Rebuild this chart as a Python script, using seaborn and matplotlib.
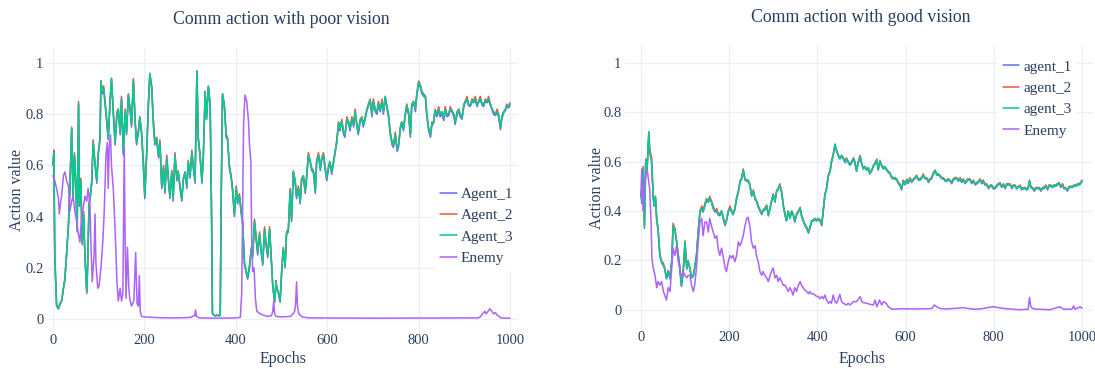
import pandas as pd
import matplotlib
matplotlib.use("Agg")
import matplotlib.pyplot as plt
import seaborn as sns

# ---------------- data ----------------
# left panel: "Comm action with poor vision"
left_epochs = [
    0, 2, 4, 8, 12, 15, 19, 23, 26, 30,
    34, 37, 41, 44, 47, 50, 53, 56, 58, 61,
    64, 67, 70, 74, 76, 79, 82, 85, 88, 92,
    96, 99, 103, 105, 108, 111, 114, 118, 121, 125,
    128, 132, 136, 140, 143, 147, 150, 154, 158, 161,
    165, 169, 172, 176, 180, 183, 187, 190, 194, 198,
    201, 205, 209, 212, 216, 220, 223, 227, 231, 234,
    238, 242, 245, 249, 253, 256, 260, 263, 267, 271,
    274, 278, 282, 285, 289, 293, 296, 300, 304, 307,
    311, 315, 318, 322, 326, 329, 333, 336, 340, 344,
    347, 349, 352, 356, 360, 364, 366, 368, 371, 375,
    379, 382, 386, 390, 393, 397, 401, 404, 408, 412,
    415, 419, 423, 426, 430, 434, 437, 441, 444, 448,
    452, 455, 459, 463, 466, 470, 474, 477, 481, 485,
    488, 490, 493, 497, 501, 504, 508, 511, 515, 519,
    522, 526, 530, 533, 537, 541, 544, 548, 552, 555,
    559, 563, 566, 570, 574, 577, 581, 585, 588, 592,
    595, 599, 603, 606, 610, 614, 617, 621, 625, 628,
    632, 636, 639, 643, 647, 650, 654, 658, 661, 665,
    668, 672, 676, 679, 683, 687, 690, 694, 698, 701,
    705, 709, 712, 716, 720, 723, 727, 730, 734, 738,
    742, 745, 749, 753, 756, 760, 763, 767, 771, 774,
    778, 782, 785, 789, 793, 796, 800, 804, 807, 811,
    815, 818, 822, 826, 829, 833, 836, 840, 844, 847,
    851, 855, 858, 862, 866, 869, 873, 877, 880, 884,
    888, 891, 895, 899, 902, 906, 909, 913, 917, 920,
    924, 928, 931, 935, 939, 942, 946, 950, 953, 957,
    961, 964, 968, 972, 975, 979, 982, 986, 990, 993,
    997, 1000,
]
left_agent_1 = [
    0.60, 0.65, 0.24, 0.05, 0.04, 0.055, 0.07, 0.12, 0.15, 0.25,
    0.37, 0.50, 0.745, 0.47, 0.64, 0.53, 0.34, 0.84, 0.44, 0.54,
    0.29, 0.41, 0.24, 0.10, 0.21, 0.44, 0.48, 0.53, 0.69, 0.60,
    0.53, 0.64, 0.70, 0.93, 0.88, 0.90, 0.84, 0.76, 0.70, 0.85,
    0.94, 0.80, 0.68, 0.80, 0.82, 0.72, 0.86, 0.64, 0.81, 0.72,
    0.875, 0.81, 0.75, 0.93, 0.76, 0.68, 0.73, 0.78, 0.72, 0.59,
    0.47, 0.64, 0.84, 0.955, 0.90, 0.75, 0.68, 0.70, 0.63, 0.69,
    0.51, 0.59, 0.49, 0.63, 0.53, 0.47, 0.575, 0.46, 0.64, 0.54,
    0.57, 0.51, 0.46, 0.54, 0.57, 0.51, 0.61, 0.55, 0.65, 0.59,
    0.53, 0.965, 0.70, 0.63, 0.53, 0.63, 0.885, 0.78, 0.905, 0.83,
    0.41, 0.02, 0.015, 0.012, 0.015, 0.012, 0.015, 0.45, 0.875, 0.83,
    0.71, 0.70, 0.59, 0.55, 0.50, 0.40, 0.51, 0.45, 0.48, 0.41,
    0.37, 0.21, 0.18, 0.155, 0.20, 0.27, 0.24, 0.38, 0.32, 0.25,
    0.33, 0.27, 0.21, 0.35, 0.29, 0.24, 0.35, 0.25, 0.125, 0.065,
    0.14, 0.115, 0.10, 0.065, 0.20, 0.27, 0.20, 0.33, 0.34, 0.50,
    0.38, 0.575, 0.53, 0.47, 0.51, 0.45, 0.54, 0.55, 0.49, 0.55,
    0.64, 0.61, 0.58, 0.57, 0.49, 0.615, 0.64, 0.58, 0.62, 0.64,
    0.59, 0.54, 0.59, 0.61, 0.565, 0.61, 0.645, 0.69, 0.765, 0.735,
    0.77, 0.72, 0.71, 0.78, 0.76, 0.735, 0.78, 0.75, 0.81, 0.75,
    0.72, 0.77, 0.78, 0.75, 0.78, 0.815, 0.83, 0.855, 0.79, 0.85,
    0.81, 0.80, 0.84, 0.81, 0.85, 0.80, 0.865, 0.83, 0.79, 0.72,
    0.68, 0.67, 0.72, 0.655, 0.67, 0.74, 0.765, 0.735, 0.795, 0.83,
    0.80, 0.71, 0.83, 0.845, 0.81, 0.87, 0.92, 0.905, 0.88, 0.87,
    0.865, 0.79, 0.735, 0.71, 0.755, 0.765, 0.81, 0.79, 0.815, 0.79,
    0.80, 0.775, 0.815, 0.79, 0.795, 0.815, 0.81, 0.79, 0.76, 0.795,
    0.815, 0.79, 0.78, 0.83, 0.845, 0.855, 0.835, 0.83, 0.85, 0.845,
    0.855, 0.83, 0.845, 0.855, 0.835, 0.83, 0.85, 0.845, 0.855, 0.835,
    0.815, 0.80, 0.795, 0.805, 0.79, 0.74, 0.78, 0.805, 0.815, 0.83,
    0.825, 0.835,
]
left_agent_2 = [
    0.60, 0.66, 0.25, 0.055, 0.04, 0.06, 0.07, 0.12, 0.16, 0.26,
    0.37, 0.51, 0.75, 0.48, 0.65, 0.54, 0.35, 0.85, 0.45, 0.55,
    0.30, 0.42, 0.25, 0.107, 0.22, 0.45, 0.49, 0.54, 0.70, 0.61,
    0.54, 0.65, 0.705, 0.93, 0.89, 0.91, 0.85, 0.77, 0.71, 0.85,
    0.94, 0.82, 0.69, 0.81, 0.82, 0.73, 0.87, 0.65, 0.82, 0.73,
    0.88, 0.82, 0.76, 0.94, 0.77, 0.69, 0.74, 0.79, 0.73, 0.61,
    0.48, 0.65, 0.85, 0.96, 0.91, 0.77, 0.69, 0.71, 0.64, 0.70,
    0.52, 0.60, 0.50, 0.64, 0.54, 0.48, 0.58, 0.47, 0.65, 0.55,
    0.58, 0.52, 0.47, 0.55, 0.575, 0.52, 0.62, 0.56, 0.66, 0.60,
    0.54, 0.97, 0.71, 0.64, 0.54, 0.64, 0.89, 0.79, 0.91, 0.84,
    0.41, 0.02, 0.015, 0.012, 0.015, 0.012, 0.015, 0.45, 0.88, 0.84,
    0.72, 0.71, 0.60, 0.56, 0.51, 0.41, 0.52, 0.46, 0.49, 0.42,
    0.38, 0.22, 0.185, 0.16, 0.21, 0.28, 0.25, 0.39, 0.33, 0.26,
    0.34, 0.275, 0.22, 0.36, 0.30, 0.25, 0.36, 0.26, 0.13, 0.07,
    0.15, 0.12, 0.107, 0.07, 0.21, 0.28, 0.21, 0.34, 0.35, 0.51,
    0.39, 0.58, 0.54, 0.48, 0.52, 0.46, 0.55, 0.56, 0.50, 0.56,
    0.65, 0.615, 0.59, 0.58, 0.50, 0.62, 0.65, 0.59, 0.63, 0.65,
    0.60, 0.55, 0.60, 0.615, 0.575, 0.62, 0.65, 0.70, 0.77, 0.745,
    0.78, 0.73, 0.72, 0.79, 0.77, 0.745, 0.79, 0.76, 0.82, 0.76,
    0.73, 0.78, 0.79, 0.76, 0.79, 0.82, 0.84, 0.86, 0.80, 0.86,
    0.82, 0.81, 0.85, 0.82, 0.86, 0.81, 0.87, 0.84, 0.80, 0.73,
    0.69, 0.68, 0.73, 0.665, 0.68, 0.75, 0.77, 0.75, 0.80, 0.84,
    0.81, 0.72, 0.84, 0.85, 0.82, 0.88, 0.93, 0.915, 0.89, 0.88,
    0.87, 0.80, 0.745, 0.72, 0.77, 0.77, 0.82, 0.80, 0.83, 0.80,
    0.81, 0.785, 0.83, 0.80, 0.80, 0.83, 0.815, 0.80, 0.77, 0.81,
    0.82, 0.80, 0.785, 0.84, 0.85, 0.87, 0.84, 0.835, 0.86, 0.85,
    0.87, 0.835, 0.85, 0.87, 0.84, 0.835, 0.86, 0.85, 0.87, 0.84,
    0.82, 0.81, 0.80, 0.82, 0.80, 0.75, 0.79, 0.81, 0.82, 0.84,
    0.83, 0.845,
]
left_agent_3 = [
    0.60, 0.65, 0.25, 0.055, 0.04, 0.06, 0.07, 0.12, 0.15, 0.26,
    0.37, 0.51, 0.745, 0.48, 0.64, 0.54, 0.35, 0.84, 0.45, 0.54,
    0.30, 0.41, 0.25, 0.107, 0.21, 0.45, 0.48, 0.54, 0.69, 0.61,
    0.54, 0.64, 0.705, 0.93, 0.89, 0.90, 0.85, 0.77, 0.705, 0.85,
    0.94, 0.81, 0.69, 0.80, 0.82, 0.73, 0.86, 0.65, 0.81, 0.73,
    0.875, 0.82, 0.76, 0.93, 0.77, 0.69, 0.73, 0.79, 0.73, 0.60,
    0.48, 0.64, 0.85, 0.96, 0.91, 0.76, 0.69, 0.705, 0.64, 0.69,
    0.52, 0.59, 0.50, 0.63, 0.54, 0.48, 0.575, 0.47, 0.64, 0.55,
    0.575, 0.52, 0.47, 0.54, 0.575, 0.52, 0.615, 0.56, 0.65, 0.60,
    0.54, 0.97, 0.705, 0.64, 0.54, 0.63, 0.89, 0.78, 0.91, 0.835,
    0.41, 0.02, 0.015, 0.012, 0.015, 0.012, 0.015, 0.45, 0.88, 0.835,
    0.72, 0.705, 0.60, 0.55, 0.51, 0.41, 0.51, 0.46, 0.48, 0.42,
    0.38, 0.22, 0.185, 0.16, 0.20, 0.275, 0.25, 0.38, 0.33, 0.26,
    0.33, 0.275, 0.22, 0.35, 0.30, 0.25, 0.35, 0.26, 0.13, 0.07,
    0.145, 0.12, 0.107, 0.07, 0.20, 0.275, 0.21, 0.33, 0.35, 0.50,
    0.39, 0.575, 0.54, 0.48, 0.51, 0.46, 0.54, 0.56, 0.50, 0.55,
    0.64, 0.615, 0.59, 0.575, 0.50, 0.615, 0.64, 0.59, 0.63, 0.64,
    0.60, 0.55, 0.59, 0.615, 0.575, 0.615, 0.65, 0.69, 0.77, 0.745,
    0.77, 0.73, 0.72, 0.78, 0.77, 0.745, 0.78, 0.76, 0.81, 0.76,
    0.73, 0.77, 0.79, 0.76, 0.78, 0.82, 0.835, 0.855, 0.80, 0.85,
    0.82, 0.81, 0.84, 0.82, 0.85, 0.81, 0.87, 0.835, 0.80, 0.73,
    0.69, 0.68, 0.72, 0.665, 0.68, 0.745, 0.77, 0.745, 0.80, 0.835,
    0.81, 0.72, 0.835, 0.85, 0.82, 0.875, 0.925, 0.91, 0.89, 0.875,
    0.87, 0.80, 0.745, 0.72, 0.76, 0.77, 0.815, 0.80, 0.82, 0.80,
    0.81, 0.785, 0.82, 0.80, 0.80, 0.82, 0.815, 0.80, 0.77, 0.80,
    0.82, 0.80, 0.785, 0.835, 0.85, 0.86, 0.84, 0.835, 0.855, 0.85,
    0.86, 0.835, 0.85, 0.86, 0.84, 0.835, 0.855, 0.85, 0.86, 0.84,
    0.82, 0.81, 0.80, 0.81, 0.80, 0.75, 0.785, 0.81, 0.82, 0.835,
    0.83, 0.84,
]
left_enemy_epochs = [
    0, 4, 8, 12, 14, 17, 19, 23, 26, 30,
    34, 37, 41, 44, 48, 52, 55, 59, 63, 66,
    70, 74, 77, 81, 83, 86, 90, 92, 94, 98,
    101, 105, 109, 112, 116, 119, 121, 123, 126, 128,
    132, 136, 138, 140, 143, 147, 150, 153, 156, 158,
    160, 163, 166, 168, 172, 177, 181, 184, 187, 189,
    191, 194, 200, 230, 260, 290, 300, 306, 310, 312,
    314, 320, 360, 400, 410, 413, 417, 420, 424, 428,
    430, 433, 435, 437, 440, 443, 446, 453, 468, 478,
    481, 483, 485, 488, 500, 520, 525, 529, 531, 533,
    535, 538, 545, 560, 700, 930, 935, 940, 945, 948,
    952, 956, 960, 964, 968, 972, 976, 980, 1000,
]
left_enemy = [
    0.56, 0.54, 0.51, 0.47, 0.41, 0.46, 0.48, 0.56, 0.575, 0.54,
    0.52, 0.42, 0.46, 0.48, 0.42, 0.38, 0.34, 0.30, 0.41, 0.43,
    0.48, 0.46, 0.51, 0.445, 0.30, 0.145, 0.25, 0.41, 0.22, 0.12,
    0.13, 0.20, 0.30, 0.41, 0.64, 0.69, 0.51, 0.67, 0.72, 0.60,
    0.51, 0.35, 0.25, 0.145, 0.07, 0.12, 0.07, 0.10, 0.67, 0.30,
    0.08, 0.28, 0.12, 0.08, 0.05, 0.07, 0.26, 0.06, 0.05, 0.17,
    0.03, 0.01, 0.008, 0.005, 0.004, 0.005, 0.006, 0.01, 0.012, 0.035,
    0.01, 0.004, 0.003, 0.004, 0.006, 0.10, 0.75, 0.875, 0.85, 0.77,
    0.68, 0.615, 0.30, 0.185, 0.20, 0.08, 0.03, 0.02, 0.01, 0.012,
    0.03, 0.07, 0.02, 0.01, 0.008, 0.01, 0.02, 0.03, 0.06, 0.145,
    0.05, 0.02, 0.008, 0.004, 0.003, 0.004, 0.008, 0.02, 0.03, 0.02,
    0.03, 0.04, 0.03, 0.02, 0.025, 0.015, 0.01, 0.004, 0.003,
]

# right panel: "Comm action with good vision"
right_epochs = [
    0, 2, 5, 8, 11, 14, 18, 20, 24, 28,
    30, 33, 36, 39, 43, 47, 51, 54, 58, 62,
    66, 70, 73, 77, 81, 85, 88, 92, 96, 100,
    104, 107, 111, 115, 119, 122, 126, 130, 134, 138,
    141, 145, 149, 153, 156, 160, 164, 168, 172, 175,
    179, 183, 187, 191, 194, 198, 202, 206, 209, 213,
    217, 221, 225, 228, 232, 236, 240, 243, 247, 251,
    255, 259, 262, 266, 270, 274, 277, 281, 285, 289,
    293, 296, 300, 304, 308, 311, 315, 319, 323, 327,
    330, 334, 338, 342, 345, 349, 353, 357, 361, 364,
    368, 372, 376, 380, 383, 387, 391, 395, 398, 402,
    406, 410, 414, 417, 421, 425, 429, 432, 436, 440,
    444, 448, 451, 455, 459, 463, 466, 470, 474, 478,
    482, 485, 489, 493, 497, 501, 504, 508, 512, 516,
    519, 523, 527, 531, 535, 538, 542, 546, 550, 553,
    557, 561, 565, 568, 572, 576, 580, 584, 587, 591,
    595, 599, 603, 606, 610, 614, 618, 621, 625, 629,
    633, 636, 640, 644, 648, 652, 655, 659, 663, 667,
    671, 674, 678, 682, 686, 690, 693, 697, 701, 705,
    708, 712, 716, 720, 724, 727, 731, 735, 739, 742,
    746, 750, 754, 758, 761, 765, 769, 773, 776, 780,
    784, 788, 792, 795, 799, 803, 807, 810, 814, 818,
    822, 826, 829, 833, 837, 841, 844, 848, 852, 856,
    860, 863, 867, 871, 875, 878, 881, 884, 888, 892,
    895, 899, 903, 907, 910, 914, 918, 922, 925, 929,
    933, 937, 941, 944, 948, 952, 956, 959, 963, 967,
    971, 975, 978, 982, 986, 990, 993, 997, 1000,
]
right_agent_1 = [
    0.48, 0.43, 0.57, 0.33, 0.60, 0.56, 0.71, 0.64, 0.60, 0.45,
    0.42, 0.45, 0.36, 0.32, 0.22, 0.19, 0.18, 0.165, 0.125, 0.155,
    0.125, 0.195, 0.335, 0.325, 0.275, 0.215, 0.17, 0.095, 0.155, 0.27,
    0.165, 0.195, 0.165, 0.13, 0.135, 0.17, 0.215, 0.315, 0.395, 0.41,
    0.395, 0.42, 0.445, 0.435, 0.45, 0.435, 0.41, 0.395, 0.40, 0.385,
    0.38, 0.40, 0.365, 0.34, 0.36, 0.395, 0.41, 0.395, 0.385, 0.405,
    0.45, 0.475, 0.52, 0.525, 0.565, 0.525, 0.52, 0.52, 0.505, 0.46,
    0.48, 0.445, 0.44, 0.415, 0.40, 0.385, 0.40, 0.405, 0.42, 0.38,
    0.41, 0.435, 0.465, 0.435, 0.48, 0.485, 0.505, 0.475, 0.42, 0.38,
    0.36, 0.395, 0.37, 0.395, 0.385, 0.355, 0.385, 0.395, 0.41, 0.38,
    0.36, 0.34, 0.33, 0.31, 0.33, 0.355, 0.36, 0.365, 0.36, 0.365,
    0.36, 0.34, 0.41, 0.46, 0.49, 0.54, 0.56, 0.595, 0.625, 0.67,
    0.64, 0.62, 0.61, 0.62, 0.61, 0.595, 0.61, 0.595, 0.585, 0.595,
    0.61, 0.595, 0.56, 0.595, 0.62, 0.585, 0.57, 0.575, 0.565, 0.57,
    0.55, 0.56, 0.58, 0.59, 0.605, 0.565, 0.60, 0.58, 0.57, 0.575,
    0.565, 0.555, 0.55, 0.535, 0.53, 0.53, 0.525, 0.51, 0.505, 0.485,
    0.52, 0.505, 0.525, 0.51, 0.53, 0.515, 0.525, 0.53, 0.54, 0.525,
    0.525, 0.53, 0.545, 0.53, 0.53, 0.515, 0.525, 0.53, 0.55, 0.56,
    0.545, 0.545, 0.54, 0.53, 0.53, 0.52, 0.52, 0.525, 0.52, 0.51,
    0.525, 0.53, 0.53, 0.52, 0.53, 0.515, 0.525, 0.51, 0.52, 0.525,
    0.525, 0.51, 0.52, 0.505, 0.51, 0.515, 0.525, 0.51, 0.52, 0.505,
    0.505, 0.49, 0.50, 0.50, 0.49, 0.49, 0.50, 0.505, 0.51, 0.495,
    0.505, 0.49, 0.505, 0.505, 0.505, 0.49, 0.50, 0.50, 0.49, 0.495,
    0.50, 0.485, 0.49, 0.49, 0.485, 0.49, 0.525, 0.495, 0.49, 0.48,
    0.49, 0.49, 0.49, 0.48, 0.49, 0.49, 0.50, 0.485, 0.50, 0.50,
    0.495, 0.50, 0.50, 0.505, 0.51, 0.495, 0.505, 0.49, 0.49, 0.48,
    0.495, 0.495, 0.495, 0.50, 0.50, 0.505, 0.505, 0.51, 0.52,
]
right_agent_2 = [
    0.47, 0.45, 0.58, 0.34, 0.61, 0.57, 0.72, 0.65, 0.62, 0.46,
    0.43, 0.46, 0.37, 0.33, 0.23, 0.195, 0.19, 0.17, 0.13, 0.16,
    0.13, 0.20, 0.35, 0.33, 0.28, 0.22, 0.18, 0.10, 0.16, 0.28,
    0.17, 0.20, 0.17, 0.135, 0.14, 0.175, 0.22, 0.32, 0.40, 0.42,
    0.40, 0.43, 0.45, 0.44, 0.46, 0.44, 0.42, 0.40, 0.41, 0.39,
    0.39, 0.40, 0.375, 0.345, 0.365, 0.40, 0.42, 0.40, 0.39, 0.41,
    0.455, 0.48, 0.525, 0.53, 0.57, 0.53, 0.525, 0.525, 0.51, 0.465,
    0.485, 0.45, 0.445, 0.42, 0.405, 0.39, 0.405, 0.41, 0.425, 0.385,
    0.415, 0.44, 0.47, 0.44, 0.485, 0.49, 0.51, 0.48, 0.425, 0.385,
    0.365, 0.40, 0.375, 0.40, 0.39, 0.36, 0.39, 0.40, 0.415, 0.385,
    0.365, 0.345, 0.335, 0.315, 0.335, 0.36, 0.365, 0.37, 0.365, 0.37,
    0.365, 0.345, 0.415, 0.465, 0.495, 0.545, 0.565, 0.60, 0.63, 0.665,
    0.645, 0.625, 0.615, 0.625, 0.615, 0.60, 0.615, 0.60, 0.59, 0.60,
    0.615, 0.60, 0.565, 0.60, 0.625, 0.59, 0.575, 0.58, 0.57, 0.575,
    0.555, 0.565, 0.585, 0.595, 0.61, 0.57, 0.605, 0.585, 0.575, 0.58,
    0.57, 0.56, 0.555, 0.54, 0.535, 0.535, 0.53, 0.515, 0.51, 0.49,
    0.525, 0.51, 0.53, 0.515, 0.535, 0.52, 0.53, 0.535, 0.545, 0.53,
    0.53, 0.535, 0.55, 0.535, 0.535, 0.52, 0.53, 0.535, 0.555, 0.565,
    0.55, 0.55, 0.545, 0.535, 0.535, 0.525, 0.525, 0.53, 0.525, 0.515,
    0.53, 0.535, 0.535, 0.525, 0.535, 0.52, 0.53, 0.515, 0.525, 0.53,
    0.53, 0.515, 0.525, 0.51, 0.515, 0.52, 0.53, 0.515, 0.525, 0.51,
    0.51, 0.495, 0.505, 0.505, 0.495, 0.495, 0.505, 0.51, 0.515, 0.50,
    0.51, 0.495, 0.51, 0.51, 0.51, 0.495, 0.505, 0.505, 0.495, 0.50,
    0.505, 0.49, 0.495, 0.495, 0.49, 0.495, 0.52, 0.50, 0.495, 0.485,
    0.495, 0.495, 0.495, 0.485, 0.495, 0.495, 0.505, 0.49, 0.505, 0.505,
    0.50, 0.505, 0.505, 0.51, 0.515, 0.50, 0.51, 0.495, 0.495, 0.485,
    0.50, 0.50, 0.50, 0.505, 0.505, 0.51, 0.51, 0.515, 0.525,
]
right_agent_3 = [
    0.48, 0.44, 0.57, 0.34, 0.60, 0.57, 0.72, 0.64, 0.61, 0.46,
    0.42, 0.46, 0.36, 0.33, 0.22, 0.195, 0.18, 0.17, 0.13, 0.155,
    0.13, 0.195, 0.34, 0.33, 0.275, 0.22, 0.17, 0.10, 0.155, 0.275,
    0.17, 0.195, 0.17, 0.13, 0.14, 0.17, 0.22, 0.315, 0.40, 0.41,
    0.40, 0.42, 0.45, 0.44, 0.45, 0.44, 0.41, 0.40, 0.40, 0.39,
    0.385, 0.40, 0.37, 0.345, 0.36, 0.40, 0.41, 0.40, 0.385, 0.41,
    0.45, 0.48, 0.52, 0.53, 0.565, 0.53, 0.52, 0.525, 0.505, 0.465,
    0.48, 0.45, 0.44, 0.42, 0.40, 0.39, 0.40, 0.41, 0.42, 0.385,
    0.41, 0.44, 0.465, 0.44, 0.48, 0.49, 0.505, 0.48, 0.42, 0.385,
    0.36, 0.40, 0.37, 0.40, 0.385, 0.36, 0.385, 0.40, 0.41, 0.385,
    0.36, 0.345, 0.33, 0.315, 0.33, 0.36, 0.36, 0.37, 0.36, 0.37,
    0.36, 0.345, 0.41, 0.465, 0.49, 0.545, 0.56, 0.60, 0.625, 0.67,
    0.64, 0.625, 0.61, 0.625, 0.61, 0.60, 0.61, 0.60, 0.585, 0.60,
    0.61, 0.60, 0.56, 0.60, 0.62, 0.59, 0.57, 0.58, 0.565, 0.575,
    0.55, 0.565, 0.58, 0.595, 0.605, 0.57, 0.60, 0.585, 0.57, 0.58,
    0.565, 0.56, 0.55, 0.54, 0.53, 0.535, 0.525, 0.515, 0.505, 0.49,
    0.52, 0.51, 0.525, 0.515, 0.53, 0.52, 0.525, 0.535, 0.54, 0.53,
    0.525, 0.535, 0.545, 0.535, 0.53, 0.52, 0.525, 0.535, 0.55, 0.565,
    0.545, 0.55, 0.54, 0.535, 0.53, 0.525, 0.52, 0.53, 0.52, 0.515,
    0.525, 0.535, 0.53, 0.525, 0.53, 0.52, 0.525, 0.515, 0.52, 0.53,
    0.525, 0.515, 0.52, 0.51, 0.51, 0.52, 0.525, 0.515, 0.52, 0.51,
    0.505, 0.495, 0.50, 0.505, 0.49, 0.495, 0.50, 0.51, 0.51, 0.50,
    0.505, 0.495, 0.505, 0.51, 0.505, 0.495, 0.50, 0.505, 0.49, 0.50,
    0.50, 0.49, 0.49, 0.495, 0.485, 0.495, 0.52, 0.495, 0.49, 0.485,
    0.49, 0.495, 0.49, 0.485, 0.49, 0.495, 0.50, 0.49, 0.50, 0.505,
    0.495, 0.505, 0.50, 0.51, 0.51, 0.50, 0.505, 0.495, 0.49, 0.485,
    0.495, 0.50, 0.495, 0.505, 0.50, 0.51, 0.505, 0.515, 0.52,
]
right_enemy_epochs = [
    0, 2, 5, 8, 11, 14, 17, 20, 23, 25,
    28, 32, 36, 39, 43, 47, 51, 54, 58, 62,
    66, 70, 73, 77, 81, 85, 88, 92, 96, 100,
    104, 107, 111, 115, 119, 122, 126, 130, 134, 138,
    141, 145, 149, 153, 156, 160, 164, 168, 172, 175,
    179, 183, 187, 191, 194, 198, 202, 206, 209, 213,
    217, 221, 225, 228, 232, 236, 240, 243, 247, 251,
    255, 259, 262, 266, 270, 274, 277, 281, 285, 289,
    293, 296, 300, 304, 308, 311, 315, 319, 323, 327,
    330, 334, 338, 342, 345, 349, 353, 357, 361, 364,
    368, 372, 376, 380, 383, 387, 391, 395, 398, 402,
    406, 410, 414, 417, 421, 425, 429, 432, 436, 440,
    444, 451, 455, 459, 466, 470, 474, 482, 489, 497,
    501, 504, 512, 519, 527, 531, 535, 541, 546, 550,
    556, 561, 569, 590, 620, 650, 660, 665, 671, 678,
    693, 708, 731, 754, 769, 799, 822, 860, 878, 881,
    884, 890, 928, 950, 958, 977, 981, 984, 996, 1000,
]
right_enemy = [
    0.46, 0.57, 0.40, 0.50, 0.545, 0.57, 0.53, 0.49, 0.36, 0.21,
    0.17, 0.14, 0.09, 0.115, 0.10, 0.115, 0.075, 0.06, 0.04, 0.09,
    0.075, 0.17, 0.25, 0.22, 0.26, 0.195, 0.17, 0.13, 0.155, 0.14,
    0.13, 0.14, 0.14, 0.10, 0.075, 0.10, 0.17, 0.275, 0.355, 0.37,
    0.30, 0.355, 0.355, 0.315, 0.37, 0.34, 0.315, 0.29, 0.30, 0.25,
    0.22, 0.25, 0.21, 0.17, 0.155, 0.195, 0.22, 0.21, 0.22, 0.195,
    0.22, 0.275, 0.26, 0.275, 0.30, 0.34, 0.37, 0.375, 0.34, 0.275,
    0.25, 0.26, 0.22, 0.195, 0.155, 0.14, 0.155, 0.14, 0.13, 0.115,
    0.14, 0.155, 0.17, 0.13, 0.14, 0.115, 0.13, 0.115, 0.10, 0.10,
    0.09, 0.075, 0.09, 0.075, 0.06, 0.09, 0.075, 0.10, 0.115, 0.10,
    0.09, 0.08, 0.075, 0.065, 0.075, 0.065, 0.065, 0.06, 0.055, 0.055,
    0.045, 0.055, 0.045, 0.06, 0.04, 0.027, 0.034, 0.027, 0.06, 0.034,
    0.027, 0.063, 0.034, 0.027, 0.02, 0.027, 0.02, 0.034, 0.034, 0.054,
    0.034, 0.03, 0.027, 0.023, 0.02, 0.04, 0.013, 0.04, 0.02, 0.034,
    0.027, 0.013, 0.003, 0.005, 0.004, 0.005, 0.006, 0.02, 0.013, 0.006,
    0.004, 0.006, 0.009, 0.003, 0.004, 0.013, 0.006, 0.001, 0.003, 0.05,
    0.013, 0.004, 0.001, 0.013, 0.003, 0.003, 0.016, 0.003, 0.013, 0.007,
]

x_ticks = [0, 200, 400, 600, 800, 1000]
y_ticks = [0, 0.2, 0.4, 0.6, 0.8, 1.0]
y_tick_labels = ["0", "0.2", "0.4", "0.6", "0.8", "1"]

TEXT = "#2a3f5f"
GRID = "#ebf0f8"

sns.set_theme(style="whitegrid")
plt.rcParams["font.family"] = ["Liberation Serif", "DejaVu Serif"]


def long_form(parts):
    frames = []
    for name, ep, vals in parts:
        frames.append(pd.DataFrame({"Epoch": ep, "Value": vals, "Series": name}))
    return pd.concat(frames, ignore_index=True)


left_df = long_form([
    ("Agent_1", left_epochs, left_agent_1),
    ("Agent_2", left_epochs, left_agent_2),
    ("Agent_3", left_epochs, left_agent_3),
    ("Enemy", left_enemy_epochs, left_enemy),
])
right_df = long_form([
    ("agent_1", right_epochs, right_agent_1),
    ("agent_2", right_epochs, right_agent_2),
    ("agent_3", right_epochs, right_agent_3),
    ("Enemy", right_enemy_epochs, right_enemy),
])

colors = ["#636efa", "#ef553b", "#00cc96", "#ab63fa"]

fig = plt.figure(figsize=(10.95, 3.69), dpi=100)
ax1 = fig.add_axes([47 / 1095, 36 / 369, 471 / 1095, 285 / 369])
ax2 = fig.add_axes([625 / 1095, 39 / 369, 468 / 1095, 285 / 369])

panels = [
    (ax1, left_df, ["Agent_1", "Agent_2", "Agent_3", "Enemy"], (-13, 1017.5), (-0.055, 1.059), (1.0, 0.527)),
    (ax2, right_df, ["agent_1", "agent_2", "agent_3", "Enemy"], (-36, 1025), (-0.081, 1.071), (0.964, 0.963)),
]

for ax, df, order, xlim, ylim, anchor in panels:
    sns.lineplot(
        data=df,
        x="Epoch",
        y="Value",
        hue="Series",
        hue_order=order,
        palette=dict(zip(order, colors)),
        estimator=None,
        sort=False,
        linewidth=1.1,
        ax=ax,
    )
    ax.set_xlim(*xlim)
    ax.set_ylim(*ylim)
    ax.set_xticks(x_ticks)
    ax.set_xticklabels([str(t) for t in x_ticks])
    ax.set_yticks(y_ticks)
    ax.set_yticklabels(y_tick_labels)
    ax.set_xlabel("")
    ax.set_ylabel("")
    ax.set_facecolor("white")
    ax.grid(True, color=GRID, linewidth=1.0)
    for s in ax.spines.values():
        s.set_visible(False)
    ax.tick_params(axis="both", length=0, labelsize=10.5, labelcolor=TEXT)
    ax.tick_params(axis="x", pad=1.0)
    ax.tick_params(axis="y", pad=2.5)

    handles, labels = ax.get_legend_handles_labels()
    leg = ax.legend(
        handles, labels,
        loc="upper right",
        bbox_to_anchor=anchor,
        frameon=True,
        facecolor="white",
        edgecolor="white",
        framealpha=1.0,
        fancybox=False,
        fontsize=11,
        handlelength=1.1,
        handletextpad=0.25,
        labelspacing=0.5,
        borderpad=0.3,
        borderaxespad=0.0,
    )
    for t in leg.get_texts():
        t.set_color(TEXT)
    for line in leg.get_lines():
        line.set_linewidth(1.1)

fig.text(281 / 1095, 1 - 20 / 369, "Comm action with poor vision", ha="center", va="center",
         fontsize=12.8, color=TEXT)
fig.text(861 / 1095, 1 - 17 / 369, "Comm action with good vision", ha="center", va="center",
         fontsize=12.8, color=TEXT)
fig.text(283 / 1095, 1 - 359 / 369, "Epochs", ha="center", va="center", fontsize=11.5, color=TEXT)
fig.text(862 / 1095, 1 - 359 / 369, "Epochs", ha="center", va="center", fontsize=11.5, color=TEXT)
fig.text(17 / 1095, 1 - 190 / 369, "Action value", ha="center", va="center", rotation=90,
         fontsize=11.5, color=TEXT)
fig.text(597 / 1095, 1 - 188 / 369, "Action value", ha="center", va="center", rotation=90,
         fontsize=11.5, color=TEXT)

fig.savefig("out.png", dpi=100, facecolor="white")
